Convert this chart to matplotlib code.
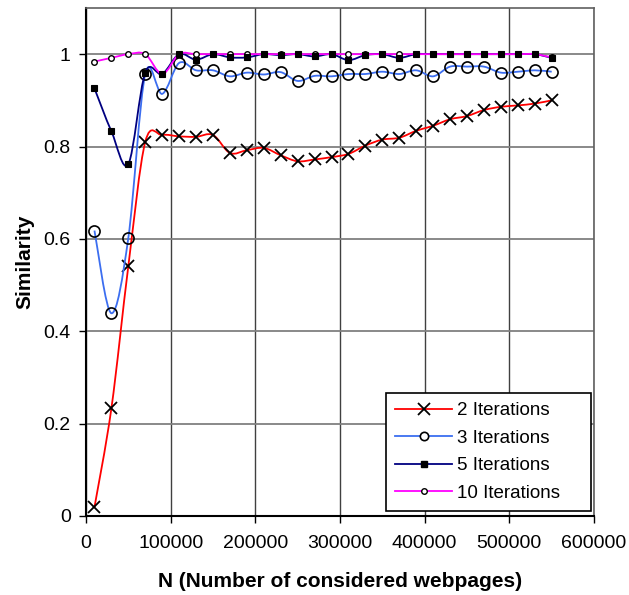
import numpy as np
import matplotlib
matplotlib.use("Agg")
import matplotlib.pyplot as plt
from matplotlib.path import Path
from matplotlib.patches import PathPatch
from matplotlib.lines import Line2D

plt.rcParams['font.family'] = ['Liberation Sans', 'DejaVu Sans']

# Data
n_pages = [10000, 30000, 50000, 70000, 90000, 110000, 130000, 150000, 170000, 190000,
           210000, 230000, 250000, 270000, 290000, 310000, 330000, 350000, 370000, 390000,
           410000, 430000, 450000, 470000, 490000, 510000, 530000, 550000]

iter2 = [0.019, 0.233, 0.541, 0.810, 0.825, 0.822, 0.821, 0.825, 0.786, 0.792,
         0.797, 0.781, 0.768, 0.772, 0.777, 0.784, 0.802, 0.815, 0.819, 0.834,
         0.845, 0.859, 0.866, 0.879, 0.886, 0.889, 0.893, 0.900]

iter3 = [0.618, 0.439, 0.602, 0.957, 0.914, 0.981, 0.965, 0.965, 0.952, 0.960,
         0.956, 0.961, 0.942, 0.953, 0.952, 0.957, 0.957, 0.962, 0.957, 0.965,
         0.952, 0.973, 0.973, 0.973, 0.960, 0.962, 0.965, 0.962]

iter5 = [0.926, 0.833, 0.762, 0.960, 0.957, 1.000, 0.988, 1.000, 0.993, 0.993,
         1.000, 0.998, 1.000, 0.995, 1.000, 0.987, 0.998, 1.000, 0.992, 1.000,
         1.000, 1.000, 1.000, 1.000, 1.000, 1.000, 1.000, 0.992]

iter10 = [0.984, 0.992, 1.000, 1.000, 0.957, 1.000, 1.000, 1.000, 1.000, 1.000,
          1.000, 1.000, 1.000, 1.000, 1.000, 1.000, 1.000, 1.000, 1.000, 1.000,
          1.000, 1.000, 1.000, 1.000, 1.000, 1.000, 1.000, 0.993]

labels = ["2 Iterations", "3 Iterations", "5 Iterations", "10 Iterations"]
x_ticks = [0, 100000, 200000, 300000, 400000, 500000, 600000]
y_ticks = [0, 0.2, 0.4, 0.6, 0.8, 1.0]
y_tick_labels = ["0", "0.2", "0.4", "0.6", "0.8", "1"]


def smooth_path(xs, ys, t=1.0 / 6.0):
    xs = np.asarray(xs, float)
    ys = np.asarray(ys, float)
    verts = [(xs[0], ys[0])]
    codes = [Path.MOVETO]
    n = len(xs)
    for i in range(n - 1):
        i0 = max(i - 1, 0)
        i3 = min(i + 2, n - 1)
        c1 = (xs[i] + (xs[i + 1] - xs[i0]) * t, ys[i] + (ys[i + 1] - ys[i0]) * t)
        c2 = (xs[i + 1] - (xs[i3] - xs[i]) * t, ys[i + 1] - (ys[i3] - ys[i]) * t)
        verts += [c1, c2, (xs[i + 1], ys[i + 1])]
        codes += [Path.CURVE4] * 3
    return Path(verts, codes)


fig = plt.figure(figsize=(6.29, 5.95), dpi=100)
ax = fig.add_axes([0.1367, 0.1328, 0.8077, 0.8538])

# (values, line colour, marker style, legend marker style, line zorder, marker zorder)
series = [
    (iter2, '#FF0000', dict(marker='x', markersize=9, markeredgecolor='black', markeredgewidth=1.3,
                            markerfacecolor='black'),
     dict(marker='x', markersize=9, markeredgecolor='black', markeredgewidth=1.3), 3, 4),
    (iter3, '#3C6EF0', dict(marker='o', markersize=8, markeredgecolor='black', markeredgewidth=1.2,
                            markerfacecolor='none'),
     dict(marker='o', markersize=6, markeredgecolor='black', markeredgewidth=1.2, markerfacecolor='white'), 5, 6),
    (iter5, '#000080', dict(marker='s', markersize=5, markeredgecolor='black', markeredgewidth=0.8,
                            markerfacecolor='black'),
     dict(marker='s', markersize=5, markeredgecolor='black', markerfacecolor='black'), 7, 11),
    (iter10, '#FF00FF', dict(marker='o', markersize=4, markeredgecolor='black', markeredgewidth=1.0,
                             markerfacecolor='white'),
     dict(marker='o', markersize=4, markeredgecolor='black', markeredgewidth=1.0, markerfacecolor='white'), 9, 10),
]

handles = []
for ys, col, mk, lmk, zl, zm in series:
    patch = PathPatch(smooth_path(n_pages, ys), facecolor='none', edgecolor=col, lw=1.3, zorder=zl)
    ax.add_patch(patch)
    ax.plot(n_pages, ys, linestyle='none', zorder=zm, **mk)
    handles.append(Line2D([0], [0], color=col, lw=1.3, **lmk))

ax.set_xlim(0, 600000)
ax.set_ylim(0, 1.1)
ax.set_xticks(x_ticks)
ax.set_xticklabels([str(v) for v in x_ticks])
ax.set_yticks(y_ticks)
ax.set_yticklabels(y_tick_labels)
ax.tick_params(axis='both', labelsize=14, direction='out', length=5, width=1, colors='black')
ax.tick_params(axis='x', pad=9)
ax.tick_params(axis='y', pad=6)

ax.grid(True, axis='y', color='#808080', lw=1.3, zorder=1)
ax.grid(True, axis='x', color='#404040', lw=1.0, zorder=1)
ax.set_axisbelow(True)

for s in ['left', 'bottom']:
    ax.spines[s].set_color('black')
    ax.spines[s].set_linewidth(1.5)
for s in ['top', 'right']:
    ax.spines[s].set_color('#606060')
    ax.spines[s].set_linewidth(1.2)

ax.set_xlabel("N (Number of considered webpages)", fontsize=15, fontweight='bold')
ax.set_ylabel("Similarity", fontsize=15, fontweight='bold')
ax.xaxis.set_label_coords(0.5, -0.110)
ax.yaxis.set_label_coords(-0.102, 0.5)

leg = ax.legend(handles, labels, loc='lower left', bbox_to_anchor=(0.5906, 0.0098, 0.4035, 0.3),
                mode='expand', fontsize=13.5, frameon=True, fancybox=False, handlelength=3.0,
                labelspacing=0.55, borderpad=0.5, handletextpad=0.27, borderaxespad=0.0)
leg.get_frame().set_edgecolor('black')
leg.get_frame().set_linewidth(1.2)
leg.get_frame().set_alpha(1.0)
leg.set_zorder(20)

fig.savefig("out.png", dpi=100)
